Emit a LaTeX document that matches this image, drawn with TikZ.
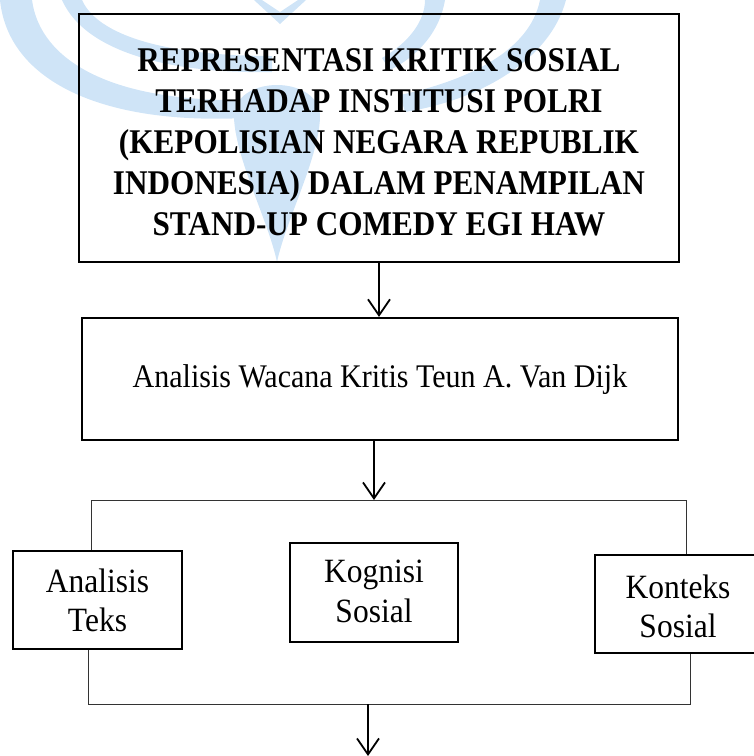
\documentclass[tikz,border=0pt]{standalone}
\usepackage{fontspec}
\setmainfont{Liberation Serif}
\usetikzlibrary{arrows.meta}
\definecolor{wm}{RGB}{207,228,247}
\newcommand\stackedtext[3]{\scalebox{#1}[#2]{\begin{tabular}{@{}c@{}}#3\end{tabular}}}
\begin{document}
\begin{tikzpicture}[x=1pt,y=-1pt,
  bigbox/.style={draw, line width=2.2pt, inner sep=0pt},
  smallbox/.style={draw, line width=2pt, inner sep=0pt},
  arr/.style={line width=1.8pt, -{Straight Barb[length=16pt,width=22pt]}},
  bracket/.style={line width=1pt, draw=black!80},
  plaintxt/.style={inner sep=0pt, font=\fontsize{31.5}{36.5}\selectfont},
  widetxt/.style={inner sep=0pt, font=\fontsize{30}{36}\selectfont},
  boldtxt/.style={inner sep=0pt, font=\bfseries\fontsize{31.2}{37}\selectfont},
  wmark/.style={fill=wm, draw=none}]
\useasboundingbox (0,0) rectangle (754,756);
\clip (0,0) rectangle (754,756);
% watermark
\path[wmark] (0,0) -- (32,0) .. controls (40,60) and (110,102) .. (245,100)
  -- (245,118) .. controls (100,125) and (8,80) .. (0,0) -- cycle;
\path[wmark] (62,0) -- (82,0) .. controls (100,40) and (180,56) .. (272,56)
  -- (272,72) .. controls (170,74) and (85,52) .. (62,0) -- cycle;
\path[wmark] (540,0) -- (566,0) .. controls (550,60) and (480,100) .. (405,112)
  -- (400,95) .. controls (470,80) and (530,50) .. (540,0) -- cycle;
\path[wmark] (425,0) -- (445,0) .. controls (440,30) and (420,55) .. (390,70)
  -- (382,58) .. controls (410,42) and (425,20) .. (425,0) -- cycle;
\path[wmark] (262,0) -- (280,12) -- (298,0) -- (306,0) -- (280,24) -- (254,0) -- cycle;
\path[wmark] (277,262) .. controls (268,220) and (236,160) .. (234,118)
  .. controls (232,74) and (322,74) .. (320,118)
  .. controls (318,160) and (286,220) .. (277,262) -- cycle;
% boxes
\node[bigbox, minimum width=600pt, minimum height=248pt] (title) at (379,138) {};
\node[boldtxt] (titletext) at ([yshift=-7pt]title.center)
  {\stackedtext{1}{1.11}{REPRESENTASI KRITIK SOSIAL\\TERHADAP INSTITUSI POLRI\\(KEPOLISIAN NEGARA REPUBLIK\\INDONESIA) DALAM PENAMPILAN\\STAND-UP COMEDY EGI HAW}};
\node[bigbox, minimum width=596pt, minimum height=122pt] (wacana) at (380,379) {};
\node[widetxt] (wacanatext) at ([yshift=-1pt]wacana.center)
  {\stackedtext{1}{1.1}{Analisis Wacana Kritis Teun A. Van Dijk}};
\node[smallbox, minimum width=169pt, minimum height=98pt] (at) at (97.5,600) {};
\node[plaintxt] (attext) at ([yshift=-4pt]at.center) {\stackedtext{1}{1.08}{Analisis\\Teks}};
\node[smallbox, minimum width=168pt, minimum height=99pt] (kg) at (374,592.5) {};
\node[plaintxt] (kgtext) at ([yshift=-2pt]kg.center) {\stackedtext{1}{1.08}{Kognisi\\Sosial}};
\node[smallbox, minimum width=166pt, minimum height=98pt] (kt) at (678,604) {};
\node[plaintxt] (kttext) at ([yshift=-6pt]kt.center) {\stackedtext{1}{1.08}{Konteks\\Sosial}};
% connectors
\draw[arr] (title.south) -- (title.south |- wacana.north);
\coordinate (bt) at (374,500);
\draw[arr] (wacana.south -| bt) -- (bt);
\coordinate (tl) at (91,500);
\coordinate (tr) at (686,500);
\draw[bracket] (at.north -| tl) -- (tl) -- (tr) -- (tr |- kt.north);
\coordinate (bl) at (88,704);
\coordinate (br) at (690,704);
\draw[bracket] (at.south -| bl) -- (bl) -- (br) -- (br |- kt.south);
\coordinate (bb) at (368,704);
\coordinate (bend) at (368,756);
\draw[arr] (bb) -- (bend);
\end{tikzpicture}
\end{document}
